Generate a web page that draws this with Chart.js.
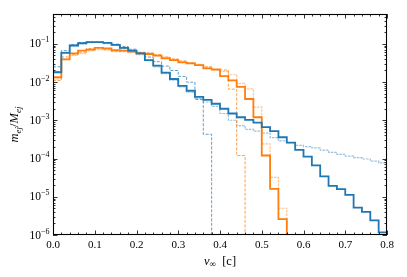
<!DOCTYPE html>
<html>
<head>
<meta charset="utf-8">
<script src="https://cdn.jsdelivr.net/npm/chart.js@4.4.1/dist/chart.umd.min.js"></script>
<style>
  html, body { margin: 0; padding: 0; background: #fff; }
  canvas { display: block; }
</style>
</head>
<body>
<canvas id="myChart" width="407" height="277"></canvas>
<script>
// bin edges of the velocity histograms (units of c)
const binEdges = [0.00, 0.02, 0.04, 0.06, 0.08, 0.10, 0.12, 0.14, 0.16, 0.18,
  0.20, 0.22, 0.24, 0.26, 0.28, 0.30, 0.32, 0.34, 0.36, 0.38,
  0.40, 0.42, 0.44, 0.46, 0.48, 0.50, 0.52, 0.54, 0.56, 0.58,
  0.60, 0.62, 0.64, 0.66, 0.68, 0.70, 0.72, 0.74, 0.76, 0.78, 0.80];

// m_ej / M_ej per bin
const blueMain = [0.018, 0.058, 0.09, 0.103, 0.11, 0.11, 0.105, 0.094, 0.078, 0.066,
  0.056, 0.0375, 0.0267, 0.0175, 0.012, 0.0079, 0.0059, 0.0041, 0.0034, 0.0027,
  0.0020, 0.0015, 0.0012, 0.00102, 0.00087, 0.00066, 0.00052, 0.00036, 0.00026, 0.000168,
  0.000112, 6.6e-5, 3.4e-5, 1.93e-5, 1.58e-5, 1.12e-5, 5.2e-6, 4.0e-6, 2.4e-6, 1.17e-6];
const blueTail = [0.019, 0.06, 0.088, 0.1, 0.107, 0.108, 0.1, 0.09, 0.075, 0.062,
  0.052, 0.036, 0.025, 0.0165, 0.0112, 0.0074, 0.0054, 0.0037, 0.003, 0.0023,
  0.0015, 0.001, 0.00072, 0.00058, 0.00052, 0.00046, 0.00035, 0.00029, 0.00026, 0.00022,
  0.000205, 0.00019, 0.000165, 0.000145, 0.000128, 0.000115, 0.000105, 9.7e-5, 8.5e-5, 7.7e-5];
const blueDash = [0.025, 0.066, 0.095, 0.108, 0.112, 0.112, 0.107, 0.098, 0.085, 0.072,
  0.058, 0.045, 0.034, 0.026, 0.02, 0.014, 0.0099, 0.0035, 0.00043];
const orangeMain = [0.0133, 0.039, 0.056, 0.066, 0.07, 0.078, 0.076, 0.068, 0.066, 0.062,
  0.056, 0.054, 0.049, 0.0415, 0.0375, 0.0327, 0.0308, 0.0278, 0.0228, 0.0214,
  0.0143, 0.011, 0.0075, 0.0036, 0.0012, 0.00012, 1.6e-5, 2.6e-6];
const orangeFaint = [0.012, 0.04, 0.05, 0.055, 0.065, 0.07, 0.068, 0.064, 0.062, 0.06,
  0.057, 0.055, 0.05, 0.044, 0.039, 0.035, 0.031, 0.027, 0.024, 0.02,
  0.019, 0.0155, 0.0092, 0.0066, 0.0022, 0.00024, 3.2e-5, 5e-6];
const orangeDash = [0.011, 0.045, 0.052, 0.06, 0.075, 0.08, 0.072, 0.062, 0.065, 0.068,
  0.06, 0.058, 0.052, 0.045, 0.04, 0.035, 0.032, 0.029, 0.025, 0.021,
  0.0206, 0.0065, 0.00012];

// tick labels
const xTickValues = [0, 0.1, 0.2, 0.3, 0.4, 0.5, 0.6, 0.7, 0.8];
const xTickLabels = ['0.0', '0.1', '0.2', '0.3', '0.4', '0.5', '0.6', '0.7', '0.8'];
const yTickValues = [1e-1, 1e-2, 1e-3, 1e-4, 1e-5, 1e-6];
const yTickExponents = ['\u22121', '\u22122', '\u22123', '\u22124', '\u22125', '\u22126'];

const FLOOR = 1e-9; // below the axis, so the drop at the end of a histogram runs off the bottom
const SERIF = "'Liberation Serif', 'DejaVu Serif', serif";

function steps(vals) {
  const pts = vals.map((v, i) => ({ x: binEdges[i], y: v }));
  const end = binEdges[vals.length];
  pts.push({ x: end, y: vals[vals.length - 1] });
  pts.push({ x: end, y: FLOOR });
  return pts;
}

function series(vals, color, width, dash) {
  return {
    data: steps(vals),
    borderColor: color,
    borderWidth: width,
    borderDash: dash || [],
    stepped: 'before',
    pointRadius: 0,
    fill: false,
    tension: 0
  };
}

// draws text pieces (normal / sub / sup) in a row, starting at x
function drawRich(ctx, parts, x, y) {
  parts.forEach(p => {
    ctx.font = p.font;
    ctx.fillText(p.t, x, y + (p.dy || 0));
    x += ctx.measureText(p.t).width;
  });
}
function richWidth(ctx, parts) {
  return parts.reduce((w, p) => { ctx.font = p.font; return w + ctx.measureText(p.t).width; }, 0);
}

const axesPlugin = {
  id: 'axesPlugin',
  afterDraw(chart) {
    const { ctx, chartArea: a, scales: { x, y } } = chart;
    ctx.save();
    ctx.strokeStyle = '#000';
    ctx.fillStyle = '#000';

    // frame
    ctx.lineWidth = 1.1;
    ctx.strokeRect(a.left + 0.5, a.top + 0.5, a.right - a.left - 1, a.bottom - a.top - 1);

    ctx.lineWidth = 0.8;
    ctx.beginPath();
    // x ticks, inward on bottom and top
    for (let k = 0; k <= 40; k++) {
      const px = Math.round(x.getPixelForValue(k * 0.02)) + 0.5;
      const len = k % 5 === 0 ? 4.5 : 2.5;
      ctx.moveTo(px, a.bottom); ctx.lineTo(px, a.bottom - len);
      ctx.moveTo(px, a.top); ctx.lineTo(px, a.top + len);
    }
    // y ticks, major and minor, inward on left and right
    for (let e = -6; e <= -1; e++) {
      for (let m = 1; m <= 9; m++) {
        const v = m * Math.pow(10, e);
        if (v > y.max) continue;
        const py = Math.round(y.getPixelForValue(v)) + 0.5;
        const len = m === 1 ? 4.5 : 2.5;
        ctx.moveTo(a.left, py); ctx.lineTo(a.left + len, py);
        ctx.moveTo(a.right, py); ctx.lineTo(a.right - len, py);
      }
    }
    ctx.stroke();

    // x tick labels
    ctx.textAlign = 'center';
    ctx.textBaseline = 'alphabetic';
    ctx.font = '11px ' + SERIF;
    xTickValues.forEach((v, i) => {
      ctx.fillText(xTickLabels[i], x.getPixelForValue(v), a.bottom + 13);
    });

    // y tick labels 10^-n
    ctx.textAlign = 'left';
    yTickValues.forEach((v, i) => {
      const py = y.getPixelForValue(v);
      const parts = [
        { t: '10', font: '11.5px ' + SERIF, dy: 3.5 },
        { t: yTickExponents[i], font: '8px ' + SERIF, dy: -1.5 }
      ];
      const w = richWidth(ctx, parts);
      drawRich(ctx, parts, a.left - 3.5 - w, py);
    });

    // x axis title: v_inf [c]
    const xt = [
      { t: 'v', font: 'italic 12.5px ' + SERIF },
      { t: '\u221e', font: '9px ' + SERIF, dy: 2 },
      { t: '  [c]', font: '12.5px ' + SERIF }
    ];
    drawRich(ctx, xt, (a.left + a.right) / 2 - richWidth(ctx, xt) / 2, 265);

    // y axis title: m_ej / M_ej
    const yt = [
      { t: 'm', font: 'italic 12.5px ' + SERIF },
      { t: 'ej', font: 'italic 9px ' + SERIF, dy: 2.5 },
      { t: '/', font: '12.5px ' + SERIF },
      { t: 'M', font: 'italic 12.5px ' + SERIF },
      { t: 'ej', font: 'italic 9px ' + SERIF, dy: 2.5 }
    ];
    ctx.translate(18, (a.top + a.bottom) / 2);
    ctx.rotate(-Math.PI / 2);
    drawRich(ctx, yt, -richWidth(ctx, yt) / 2, 0);

    ctx.restore();
  }
};

document.addEventListener('DOMContentLoaded', function() {
  if (typeof Chart === 'undefined') {
    console.error('Chart.js is not loaded');
    return;
  }

  const blue = '#1f77b4';
  const orange = '#ff7f0e';

  const ctx = document.getElementById('myChart');
  new Chart(ctx, {
    type: 'line',
    data: {
      datasets: [
        series(blueMain, blue, 1.8),
        series(orangeMain, orange, 1.8),
        series(blueDash, 'rgba(31,119,180,0.7)', 1, [3, 1.5]),
        series(orangeDash, 'rgba(255,127,14,0.75)', 1, [3, 1.5]),
        series(blueTail, 'rgba(31,119,180,0.45)', 1.2, [2.5, 1]),
        series(orangeFaint, 'rgba(255,127,14,0.45)', 1.2, [2.5, 1])
      ]
    },
    options: {
      responsive: false,
      animation: false,
      devicePixelRatio: 1,
      layout: { padding: { top: 14, right: 20, left: 0, bottom: 0 } },
      plugins: {
        legend: { display: false },
        tooltip: { enabled: false }
      },
      scales: {
        x: {
          type: 'linear',
          min: 0,
          max: 0.8,
          ticks: { display: false },
          grid: { display: false },
          border: { display: false },
          afterFit(scale) { scale.height = 42; }
        },
        y: {
          type: 'logarithmic',
          min: 1e-6,
          max: 0.6,
          ticks: { display: false },
          grid: { display: false },
          border: { display: false },
          afterFit(scale) { scale.width = 53; }
        }
      }
    },
    plugins: [axesPlugin]
  });
});
</script>
</body>
</html>
